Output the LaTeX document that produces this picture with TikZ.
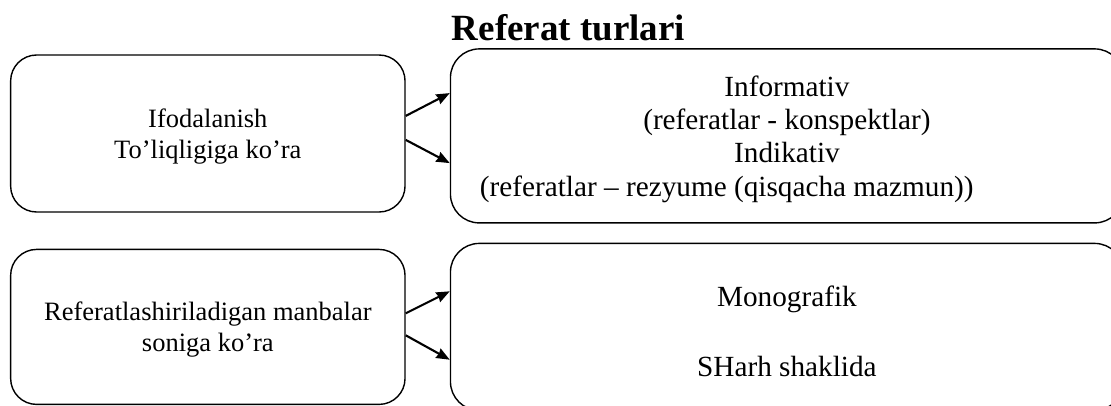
\documentclass[tikz,border=0pt]{standalone}
\usepackage{fontspec}
\setmainfont{Liberation Serif}
\usetikzlibrary{positioning, arrows.meta}

\begin{document}
\begin{tikzpicture}[%
    >={Stealth[length=9.5pt, width=7.5pt, inset=0.8pt]},
    node distance=1.1cm,
    box/.style={draw, rounded corners=0.65cm, line width=1pt, align=center,
      minimum width=9.86cm, text depth=0pt, font=\fontsize{18.85}{22}\selectfont},
    bigbox/.style={box, rounded corners=0.72cm, minimum width=16.825cm,
      font=\fontsize{20.8}{23.8}\selectfont},
    link/.style={->, line width=1.5pt}
  ]

  \useasboundingbox (0,0) rectangle (27.775,-10.125);

  \node[anchor=base, font=\fontsize{26.3}{30}\selectfont\bfseries] (title) at (14.21,-1) {Referat turlari};

  \node[box, minimum height=3.925cm] (ifoda) at (5.196,-3.3375) {Ifodalanish\\To’liqligiga ko’ra};
  \node[bigbox, minimum height=4.35cm] (info) [right=of ifoda, yshift=-0.6mm]
    {Informativ\\(referatlar - konspektlar)\\Indikativ\\\hspace*{-3.01cm}(referatlar – rezyume (qisqacha mazmun))};
  \node[box, minimum height=3.875cm] (manba) [below=0.9cm of ifoda] {Referatlashiriladigan manbalar\\soniga ko’ra};
  \node[bigbox, minimum height=4.175cm, text height=70.4pt] (mono) [right=of manba] {Monografik\\[26pt]SHarh shaklida};

  \path[link]
              ([yshift=4.4mm]ifoda.east)  edge ([yshift=10.7mm]info.west)
              ([yshift=-1.6mm]ifoda.east) edge ([yshift=-6.8mm]info.west)
              ([yshift=3.4mm]manba.east)  edge ([yshift=8.9mm]mono.west)
              ([yshift=-2.1mm]manba.east) edge ([yshift=-8.2mm]mono.west);
\end{tikzpicture}
\end{document}
